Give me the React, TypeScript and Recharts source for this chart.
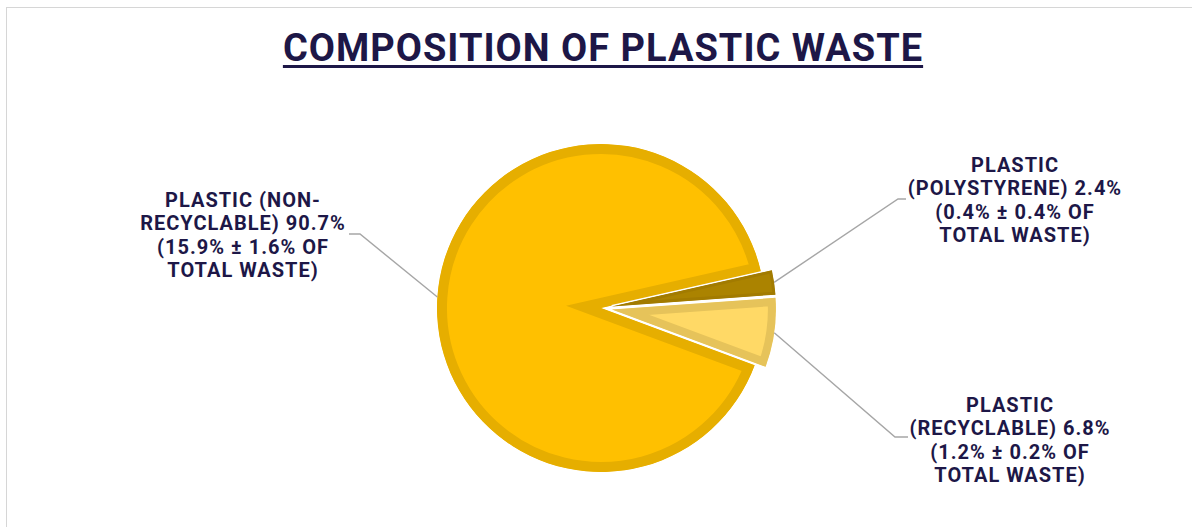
import React from 'react';
import { PieChart, Pie, Sector } from 'recharts';

const categories = ['PLASTIC (NON-RECYCLABLE)', 'PLASTIC (POLYSTYRENE)', 'PLASTIC (RECYCLABLE)'];
const labelHeads = [
  ['PLASTIC (NON-', 'RECYCLABLE)'],
  ['PLASTIC', '(POLYSTYRENE)'],
  ['PLASTIC', '(RECYCLABLE)'],
];
const shares = [90.7, 2.4, 6.8];
const shareOfTotal = ['15.9% ± 1.6%', '0.4% ± 0.4%', '1.2% ± 0.2%'];

const data = categories.map((name, i) => ({ name, value: shares[i], total: shareOfTotal[i] }));

const INK = '#1d1747';
const fills = ['#FFC000', '#AB8300', '#FFD966'];
const borders = ['#E6AE00', '#A27B00', '#E6C35A'];
const borderWidths = [10, 3, 8];
const explode = [0, 11, 11];

// label placement, relative to the pie centre
const labelLayout = [
  { tx: -358, ty: -101, ex: -241, ey: -74, endX: -252 },
  { tx: 414, ty: -136, ex: 297, ey: -109, endX: 305 },
  { tx: 409, ty: 104, ex: 294, ey: 129, endX: 307 },
];
const LINE_H = 23.4;
const RAD = Math.PI / 180;

const sliceIndex = (p: any) => categories.indexOf(p.name ?? p.payload?.name);

const renderSlice = (props: any) => {
  const { cx, cy, outerRadius, startAngle, endAngle, midAngle } = props;
  const i = sliceIndex(props);
  const off = explode[i] ?? 0;
  const x = cx + off * Math.cos(-midAngle * RAD);
  const y = cy + off * Math.sin(-midAngle * RAD);
  const geo = { cx: x, cy: y, innerRadius: 0, outerRadius, startAngle, endAngle };
  const id = `slice-clip-${i}`;
  return (
    <g>
      <defs>
        <clipPath id={id}>
          <Sector {...geo} />
        </clipPath>
      </defs>
      {off > 0 && <Sector {...geo} fill="#fff" stroke="#fff" strokeWidth={3} />}
      <Sector
        {...geo}
        fill={fills[i]}
        stroke={borders[i]}
        strokeWidth={borderWidths[i] * 2}
        strokeLinejoin="miter"
        strokeMiterlimit={30}
        clipPath={`url(#${id})`}
      />
    </g>
  );
};

const renderLabel = (props: any) => {
  const { cx, cy, midAngle, outerRadius } = props;
  const i = sliceIndex(props);
  if (i < 0) return null;
  const r = outerRadius + explode[i];
  const sx = cx + r * Math.cos(-midAngle * RAD);
  const sy = cy + r * Math.sin(-midAngle * RAD);
  const l = labelLayout[i];
  const lines = [
    labelHeads[i][0],
    `${labelHeads[i][1]} ${shares[i]}%`,
    `(${shareOfTotal[i]} OF`,
    'TOTAL WASTE)',
  ];
  return (
    <g>
      <polyline
        points={`${sx},${sy} ${cx + l.ex},${cy + l.ey} ${cx + l.endX},${cy + l.ey}`}
        fill="none"
        stroke="#A6A6A6"
        strokeWidth={1.4}
      />
      <text
        x={cx + l.tx}
        y={cy + l.ty}
        textAnchor="middle"
        fontFamily="Roboto, sans-serif"
        fontWeight={700}
        fontSize={20}
        letterSpacing={1}
        fill={INK}
      >
        {lines.map((t, k) => (
          <tspan key={k} x={cx + l.tx} dy={k === 0 ? 0 : LINE_H}>
            {t}
          </tspan>
        ))}
      </text>
    </g>
  );
};

export default function App() {
  return (
    <div
      style={{
        position: 'absolute',
        left: 0,
        top: 0,
        width: 1192,
        height: 527,
        overflow: 'hidden',
        background: '#fff',
      }}
    >
      <div
        style={{
          position: 'absolute',
          left: 6,
          top: 7,
          width: 1300,
          height: 700,
          border: '1.5px solid #D6D6D6',
        }}
      />
      <div
        style={{
          position: 'absolute',
          left: 0,
          top: 29,
          width: 1206,
          textAlign: 'center',
          fontFamily: 'Roboto, sans-serif',
          fontWeight: 700,
          fontSize: 38,
          letterSpacing: 1,
          lineHeight: '38px',
          color: INK,
          textDecoration: 'underline',
          textDecorationThickness: 3,
          textUnderlineOffset: 4,
        }}
      >
        COMPOSITION OF PLASTIC WASTE
      </div>
      <div style={{ position: 'absolute', left: 0, top: 0 }}>
        <PieChart width={1192} height={527}>
          <Pie
            data={data}
            dataKey="value"
            nameKey="name"
            cx={596}
            cy={303}
            outerRadius={164}
            startAngle={339.6}
            endAngle={-20.4}
            stroke="none"
            shape={renderSlice}
            label={renderLabel}
            labelLine={false}
            isAnimationActive={false}
          />
        </PieChart>
      </div>
    </div>
  );
}
